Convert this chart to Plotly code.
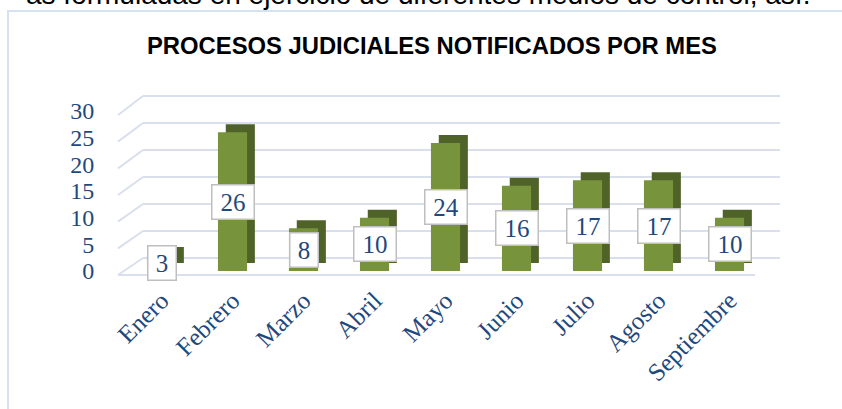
import plotly.graph_objects as go

# ---------------- data ----------------
months = ["Enero", "Febrero", "Marzo", "Abril", "Mayo", "Junio", "Julio", "Agosto", "Septiembre"]
values = [3, 26, 8, 10, 24, 16, 17, 17, 10]
y_ticks = [0, 5, 10, 15, 20, 25, 30]
title_text = "PROCESOS JUDICIALES NOTIFICADOS POR MES"
above_text = "as formuladas en ejercicio de diferentes medios de control, así."

# ---------------- style ----------------
W, H = 842, 409
TEXT = "#1F497D"
FRONT = "#77933C"
SIDE = "#4F6228"
GRID = "#D9DFEC"
SERIF = "Liberation Serif"
BAR_W = 0.41
DEPTH_X = 0.11
DEPTH_Y = 1.5


def fx(p):
    return p / W


def fy(p):
    return 1 - p / H


def ydomain(p0, p30, r0, r1):
    k = (p0 - p30) / 30.0
    bottom = p0 + (0 - r0) * k
    top = p0 - r1 * k
    return [fy(bottom), fy(top)]


fig = go.Figure()

# invisible helper trace for the back wall (gridlines)
fig.add_trace(go.Scatter(x=months, y=values, xaxis="x", yaxis="y", mode="markers",
                         marker=dict(opacity=0, size=1), hoverinfo="skip", showlegend=False))

# side / top faces (darker, shifted back)
fig.add_trace(go.Bar(x=months, y=values, base=DEPTH_Y, offset=-BAR_W / 2 + DEPTH_X, width=BAR_W,
                     marker=dict(color=SIDE, line=dict(width=0)), xaxis="x2", yaxis="y2",
                     hoverinfo="skip", showlegend=False))
# front faces
fig.add_trace(go.Bar(x=months, y=values, offset=-BAR_W / 2, width=BAR_W,
                     marker=dict(color=FRONT, line=dict(width=0)), xaxis="x2", yaxis="y2",
                     showlegend=False))

annotations = []
for m, v in zip(months, values):
    t = str(v)
    annotations.append(dict(x=m, y=v / 2, xref="x2", yref="y2", text=t, showarrow=False,
                            bgcolor="white", bordercolor="#BFBFBF", borderwidth=1.5, borderpad=2,
                            width=14 * len(t) + 9, height=29,
                            font=dict(family=SERIF, size=25, color=TEXT)))

annotations.append(dict(x=fx(432), y=fy(45), xref="paper", yref="paper", text="<b>" + title_text + "</b>",
                        showarrow=False, xanchor="center", yanchor="middle",
                        font=dict(family="Liberation Sans", size=23.8, color="black")))
annotations.append(dict(x=fx(812), y=fy(12), xref="paper", yref="paper", text=above_text,
                        showarrow=False, xanchor="right", yanchor="bottom",
                        font=dict(family="Liberation Sans", size=28, color="black")))

shapes = []
# chart frame
shapes.append(dict(type="rect", xref="paper", yref="paper", x0=fx(8), y0=fy(11), x1=fx(W + 20), y1=fy(H + 20),
                   line=dict(color="#D5E2F3", width=2), fillcolor="rgba(0,0,0,0)", layer="above"))
# left wall perspective lines
FRONT_Y0, FRONT_K = 275, 5.333
BACK_Y0, BACK_K = 258, 5.4
for v in y_ticks:
    shapes.append(dict(type="line", xref="paper", yref="paper",
                       x0=fx(118), y0=fy(FRONT_Y0 - v * FRONT_K), x1=fx(143), y1=fy(BACK_Y0 - v * BACK_K),
                       line=dict(color=GRID, width=2), layer="below"))
# floor front edge
shapes.append(dict(type="line", xref="paper", yref="paper", x0=fx(118), y0=fy(FRONT_Y0), x1=fx(755), y1=fy(FRONT_Y0),
                   line=dict(color=GRID, width=2), layer="below"))

fig.update_layout(
    width=W, height=H, margin=dict(l=0, r=0, t=0, b=0, autoexpand=False),
    paper_bgcolor="white", plot_bgcolor="rgba(0,0,0,0)",
    barmode="overlay", showlegend=False,
    annotations=annotations, shapes=shapes,
    xaxis=dict(domain=[fx(143), fx(780)], range=[-0.5, 8.5], type="category", anchor="y", automargin=False,
               showticklabels=False, showgrid=False, zeroline=False, showline=False, ticks=""),
    yaxis=dict(domain=ydomain(BACK_Y0, BACK_Y0 - 30 * BACK_K, -0.3, 30.3), range=[-0.3, 30.3], anchor="x",
               automargin=False,
               tickvals=y_ticks, showticklabels=False, showgrid=True, gridcolor=GRID, gridwidth=2,
               zeroline=False, showline=False, ticks=""),
    xaxis2=dict(domain=[fx(126), fx(765)], range=[-0.5, 8.5], type="category", anchor="y2", automargin=False,
                tickangle=-45, ticks="outside", ticklen=4, tickcolor="rgba(0,0,0,0)",
                tickfont=dict(family=SERIF, size=25, color=TEXT),
                showgrid=False, zeroline=False, showline=False),
    yaxis2=dict(domain=ydomain(271, 111, 0, 30), range=[0, 30], anchor="x2", automargin=False,
                tickvals=y_ticks, ticks="outside", ticklen=26, tickcolor="rgba(0,0,0,0)",
                tickfont=dict(family=SERIF, size=24, color=TEXT),
                showgrid=False, zeroline=False, showline=False),
)

fig.write_html("out.html")
